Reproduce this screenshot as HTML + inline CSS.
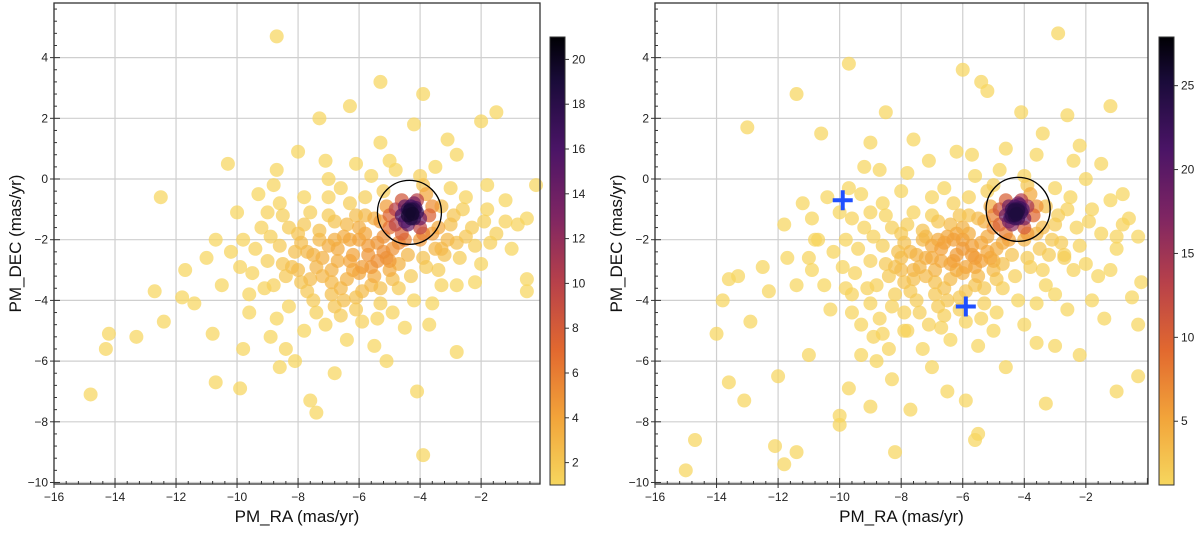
<!DOCTYPE html>
<html><head><meta charset="utf-8"><style>
html,body{margin:0;padding:0;background:#fff;}
svg{display:block;font-family:"Liberation Sans",sans-serif;}
</style></head><body>
<svg id="s" width="1200" height="533" viewBox="0 0 1200 533">
<defs>
<linearGradient id="cmap" x1="0" y1="1" x2="0" y2="0">
<stop offset="0" stop-color="#f6d65e"/><stop offset="0.15" stop-color="#f2a43a"/><stop offset="0.3" stop-color="#e2692f"/><stop offset="0.45" stop-color="#b8414a"/><stop offset="0.6" stop-color="#7e2563"/><stop offset="0.75" stop-color="#4a1466"/><stop offset="0.9" stop-color="#1a0b3a"/><stop offset="1" stop-color="#000004"/>
</linearGradient>
</defs>
</svg>
<script>
const xTicks=[-16,-14,-12,-10,-8,-6,-4,-2];
const yTicks=[-10,-8,-6,-4,-2,0,2,4];
const cbTicksL=[2,4,6,8,10,12,14,16,18,20];
const cbTicksR=[5,10,15,20,25];
const core=[[-10.2,-2.4],[-9.8,-2.0],[-9.5,-3.1],[-9.2,-1.6],[-9.0,-2.7],[-8.8,-3.5],[-8.6,-2.2],[-8.5,-1.2],[-8.3,-4.2],[-8.2,-2.9],[-8.0,-1.8],[-7.9,-3.4],[-7.7,-2.4],[-7.6,-1.1],[-7.5,-4.0],[-7.4,-2.9],[-7.3,-1.7],[-7.2,-3.2],[-7.0,-2.2],[-6.9,-3.8],[-6.8,-1.4],[-6.7,-2.7],[-6.6,-4.5],[-6.5,-1.9],[-6.4,-3.3],[-6.3,-0.8],[-6.2,-2.5],[-6.1,-3.9],[-6.0,-1.6],[-5.9,-2.9],[-5.8,-0.6],[-5.7,-2.2],[-5.6,-3.5],[-5.5,-1.3],[-5.4,-2.7],[-5.3,-4.1],[-5.2,-1.9],[-5.1,-0.9],[-5.0,-3.0],[-4.9,-2.3],[-4.8,-1.5],[-4.7,-3.6],[-4.6,-0.7],[-4.5,-2.0],[-4.4,-1.2],[-4.3,-1.0],[-4.2,-1.3],[-4.3,-0.9],[-4.4,-1.0],[-4.1,-1.1],[-4.2,-0.8],[-4.5,-1.4],[-4.0,-1.6],[-3.9,-2.6],[-3.8,-0.5],[-3.6,-1.8],[-3.4,-3.0],[-3.3,-0.9],[-3.1,-2.0],[-2.9,-1.2],[-2.7,-2.6],[-2.5,-0.6],[-2.3,-1.6],[-2.0,-2.8],[-1.8,-1.0],[-1.5,-1.8],[-1.2,-0.7],[-1.0,-2.3],[-0.8,-1.5],[-9.6,-4.4],[-8.9,-5.2],[-8.4,-5.6],[-7.8,-5.0],[-7.1,-4.8],[-6.4,-5.3],[-5.9,-4.7],[-5.5,-5.5],[-4.9,-4.4],[-4.3,-3.2],[-3.6,-4.1],[-10.5,-3.5],[-11.0,-2.6],[-10.0,-1.1],[-9.3,-0.5],[-8.7,0.3],[-7.1,0.6],[-6.6,-0.3],[-5.6,0.1],[-4.8,0.3],[-3.9,-0.2],[-3.0,-0.3],[-6.0,-3.1],[-6.8,-2.0],[-7.5,-2.5],[-5.2,-2.4],[-4.7,-2.8],[-5.8,-1.8],[-6.3,-2.0],[-5.0,-1.6],[-6.9,-3.0],[-7.9,-2.1],[-8.5,-2.8],[-5.5,-3.2],[-4.6,-1.8],[-3.7,-1.2],[-3.5,-2.3],[-4.0,-2.0],[-4.8,-1.0],[-5.3,-1.4],[-6.1,-1.2],[-4.35,-1.05],[-4.25,-1.15],[-4.15,-0.95]];
const core2=[[-9.9,-2.9],[-9.4,-2.3],[-9.1,-3.6],[-8.9,-1.9],[-8.7,-4.6],[-8.4,-3.2],[-8.1,-2.4],[-7.8,-1.5],[-7.7,-3.7],[-7.4,-4.4],[-7.2,-2.6],[-7.0,-1.2],[-6.9,-3.4],[-6.7,-2.3],[-6.5,-4.0],[-6.4,-1.5],[-6.2,-3.0],[-6.0,-2.0],[-5.9,-3.7],[-5.8,-1.2],[-5.6,-2.9],[-5.4,-2.1],[-5.3,-3.6],[-5.1,-2.6],[-5.0,-1.2],[-4.9,-3.3],[-4.7,-2.1],[-4.6,-1.2],[-4.5,-0.9],[-4.4,-1.5],[-4.3,-1.3],[-4.2,-1.0],[-4.1,-0.7],[-4.0,-1.3],[-3.9,-1.8],[-3.8,-2.9],[-3.6,-0.9],[-3.4,-1.6],[-3.2,-2.5],[-3.0,-1.5],[-2.8,-2.1],[-2.6,-1.0],[-2.2,-2.2],[-1.9,-1.4],[-6.6,-3.6],[-7.3,-2.0],[-8.0,-3.0],[-5.7,-2.5],[-6.3,-2.7],[-5.0,-2.7],[-4.4,-2.5],[-7.6,-3.3],[-8.3,-1.6],[-9.0,-1.1],[-6.8,-4.2],[-5.4,-4.6],[-4.2,-4.0],[-3.3,-3.5],[-6.1,-4.3],[-7.0,-0.6],[-5.2,-0.4],[-4.0,0.1],[-8.6,-0.8],[-9.6,-3.8],[-10.7,-2.0]];
const outerL=[[-8.7,4.7],[-5.3,3.2],[-6.3,2.4],[-3.9,2.8],[-1.5,2.2],[-7.3,2.0],[-4.2,1.8],[-2.0,1.9],[-12.5,-0.6],[-10.3,0.5],[-8.0,0.9],[-14.8,-7.1],[-14.2,-5.1],[-14.3,-5.6],[-13.3,-5.2],[-12.7,-3.7],[-12.4,-4.7],[-11.7,-3.0],[-11.8,-3.9],[-11.4,-4.1],[-10.7,-6.7],[-9.9,-6.9],[-10.8,-5.1],[-9.8,-5.6],[-8.6,-6.2],[-7.6,-7.3],[-7.4,-7.7],[-8.1,-6.0],[-6.8,-6.4],[-5.1,-6.0],[-4.1,-7.0],[-3.9,-9.1],[-2.8,-5.7],[-0.5,-3.3],[-0.5,-3.7],[-0.2,-0.2],[-0.5,-1.3],[-1.2,-1.4],[-1.8,-0.2],[-2.8,0.8],[-3.1,1.3],[-3.5,0.4],[-5.0,0.6],[-5.3,1.2],[-6.1,0.5],[-7.0,0.0],[-8.8,-0.2],[-7.8,-0.6],[-2.2,-3.4],[-2.8,-3.5],[-1.7,-2.1],[-3.7,-4.8],[-4.5,-4.9],[-3.3,-2.3],[-2.5,-1.9]];
const outerR=[[-15,-9.6],[-14.7,-8.6],[-13.6,-6.7],[-13.1,-7.3],[-12.1,-8.8],[-11.8,-9.4],[-11.4,-9.0],[-10.0,-7.8],[-10.0,-8.1],[-9.7,-6.9],[-8.2,-9.0],[-5.9,-7.3],[-5.5,-8.4],[-5.6,-8.6],[-3.3,-7.4],[-1.0,-7.0],[-0.3,-6.5],[-0.3,-4.8],[-0.2,-3.4],[-0.5,-3.9],[-13.0,1.7],[-11.4,2.8],[-10.6,1.5],[-9.7,3.8],[-6.0,3.6],[-5.4,3.2],[-5.2,2.9],[-4.1,2.2],[-2.9,4.8],[-1.2,2.4],[-3.4,1.5],[-2.2,1.1],[-8.5,2.2],[-9.7,-0.3],[-10.4,-0.6],[-11.2,-0.8],[-13.3,-3.2],[-13.6,-3.3],[-13.8,-4.0],[-12.9,-4.7],[-14.0,-5.1],[-12.3,-3.7],[-11.7,-2.6],[-12.5,-2.9],[-8.8,-6.0],[-8.3,-6.6],[-9.3,-5.8],[-7.9,-5.0],[-0.6,-1.3],[-1.0,-1.9],[-0.3,-1.9],[-1.8,-4.0],[-2.7,-2.5],[-11.0,-5.8],[-10.3,-4.3],[-9.0,-7.5],[-7.0,-6.2],[-6.5,-7.0],[-4.6,-6.2],[-3.0,-5.5],[-2.2,-5.8],[-1.4,-4.6],[-1.5,0.5],[-2.6,2.1],[-4.6,1.0],[-7.6,1.3],[-9.0,1.2],[-11.8,-1.5],[-10.9,-3.0],[-6.2,0.9],[-3.6,-5.4],[-7.7,-7.6],[-12.0,-6.5]];
const extraR=[[-7.2,-1.9],[-6.6,-2.1],[-6.0,-2.3],[-7.6,-3.0],[-6.4,-2.8],[-5.6,-2.6],[-8.0,-2.6],[-7.0,-2.6],[-6.2,-1.8],[-4.15,-0.85],[-4.05,-1.0],[-4.3,-1.2],[-4.45,-1.25],[-3.9,-0.9],[-4.2,-1.05],[-9.8,-3.6],[-9.0,-4.1],[-8.2,-3.8],[-3.0,-3.8],[-2.4,-3.0],[-1.6,-3.2],[-10.8,-2.0],[-9.6,-1.3],[-8.0,-0.4],[-5.0,-0.2],[-2.0,0.0],[-7.9,-4.4],[-7.3,-5.6],[-8.6,-5.1],[-9.3,-4.8],[-6.7,-4.9],[-5.0,-5.0],[-4.0,-4.8],[-2.6,-4.3],[-1.2,-3.0],[-0.8,-0.5],[-2.4,0.6],[-3.6,0.8],[-5.7,0.8],[-7.8,0.2],[-9.2,0.4],[-10.9,-1.3],[-11.4,-3.5]];
const ptsL=core.concat(core2,outerL);
const ptsR=core.concat(core2,outerR,extraR);
const NS="http://www.w3.org/2000/svg";
const svg=document.getElementById('s');
function mk(t,a,p){const e=document.createElementNS(NS,t);for(const k in a)e.setAttribute(k,a[k]);(p||svg).appendChild(e);return e;}
const stops=[[0,[246,214,94]],[0.15,[242,164,58]],[0.3,[226,105,47]],[0.45,[184,65,74]],[0.6,[126,37,99]],[0.75,[74,20,102]],[0.9,[26,11,58]],[1,[0,0,4]]];
function cmap(t){t=Math.max(0,Math.min(1,t));for(let i=1;i<stops.length;i++){if(t<=stops[i][0]){const a=stops[i-1],b=stops[i];const f=(t-a[0])/(b[0]-a[0]);return 'rgb('+a[1].map((v,j)=>Math.round(v+(b[1][j]-v)*f)).join(',')+')';}}return 'rgb(0,0,4)';}
function panel(o){
  const g=mk('g',{});
  const X=v=>o.x0+(v-o.xmin)/(o.xmax-o.xmin)*(o.x1-o.x0);
  const Y=v=>o.y1-(v-o.ymin)/(o.ymax-o.ymin)*(o.y1-o.y0);
  const gg=mk('g',{},g);
  xTicks.forEach(t=>{mk('line',{x1:X(t),x2:X(t),y1:o.y0,y2:o.y1,stroke:'#cfcfcf','stroke-width':1.2},gg);});
  yTicks.forEach(t=>{mk('line',{x1:o.x0,x2:o.x1,y1:Y(t),y2:Y(t),stroke:'#cfcfcf','stroke-width':1.2},gg);});
  const pts=o.pts;
  const ks=0.45;
  const dens=pts.map(p=>pts.reduce((s,q)=>{const dx=p[0]-q[0],dy=p[1]-q[1];return s+Math.exp(-(dx*dx+dy*dy)/(2*ks*ks));},0));
  const dmax=Math.max(...dens);
  const order=pts.map((p,i)=>i).sort((a,b)=>dens[a]-dens[b]);
  const sg=mk('g',{},g);
  order.forEach(i=>{const p=pts[i];const f=Math.pow((dens[i]-1)/(dmax-1),2.1);const v=o.cmin+f*(o.peak-o.cmin);
    const c=mk('circle',{cx:X(p[0]),cy:Y(p[1]),r:7,fill:cmap((v-o.cmin)/(o.cmax-o.cmin)),'fill-opacity':0.72},sg);
    
    });
  const cc=mk('circle',{cx:X(o.circ[0]),cy:Y(o.circ[1]),r:32,fill:'none',stroke:'#000','stroke-width':1.3},g);
  
  
  (o.crosses||[]).forEach(p=>{const cg=mk('g',{},g);
    
    
    mk('line',{x1:X(p[0])-10,x2:X(p[0])+10,y1:Y(p[1]),y2:Y(p[1]),stroke:'#1f4fff','stroke-width':4},cg);
    mk('line',{x1:X(p[0]),x2:X(p[0]),y1:Y(p[1])-10,y2:Y(p[1])+10,stroke:'#1f4fff','stroke-width':4},cg);});
  const fr=mk('rect',{x:o.x0,y:o.y0,width:o.x1-o.x0,height:o.y1-o.y0,fill:'none',stroke:'#333','stroke-width':1.3},g);
  
  for(let v=-16;v<=o.xmax;v+=0.4){const big=Math.abs(v-Math.round(v/2)*2)<1e-6;mk('line',{x1:X(v),x2:X(v),y1:o.y1,y2:o.y1-(big?6:3),stroke:'#333','stroke-width':1},g);}
  for(let v=-10;v<=o.ymax;v+=0.4){const big=Math.abs(v-Math.round(v/2)*2)<1e-6;mk('line',{x1:o.x0,x2:o.x0+(big?6:3),y1:Y(v),y2:Y(v),stroke:'#333','stroke-width':1},g);}
  xTicks.forEach(t=>{mk('line',{x1:X(t),x2:X(t),y1:o.y1,y2:o.y1+4,stroke:'#333'},g);const tx=mk('text',{x:X(t),y:o.y1+17,'text-anchor':'middle','font-size':12,fill:'#222'},g);tx.textContent='\u2212'+Math.abs(t);});
  yTicks.forEach(t=>{mk('line',{x1:o.x0-4,x2:o.x0,y1:Y(t),y2:Y(t),stroke:'#333'},g);const tx=mk('text',{x:o.x0-6,y:Y(t)+4,'text-anchor':'end','font-size':12,fill:'#222'},g);tx.textContent=(t<0?'\u2212':'')+Math.abs(t);});
  const xt=mk('text',{x:(o.x0+o.x1)/2,y:522,'text-anchor':'middle','font-size':17,fill:'#111'},g);xt.textContent='PM_RA (mas/yr)';
  
  const yt=mk('text',{x:0,y:0,transform:'translate('+(o.x0-33)+','+((o.y0+o.y1)/2)+') rotate(-90)','text-anchor':'middle','font-size':17,fill:'#111'},g);yt.textContent='PM_DEC (mas/yr)';
  
  const cb=mk('g',{},g);
  mk('rect',{x:o.cbx,y:37,width:15,height:448,fill:'url(#cmap)',stroke:'#333','stroke-width':1},cb);
  const CY=v=>485-(v-o.cmin)/(o.cmax-o.cmin)*448;
  o.cbTicks.forEach(t=>{mk('line',{x1:o.cbx+15,x2:o.cbx+19,y1:CY(t),y2:CY(t),stroke:'#333'},cb);const tx=mk('text',{x:o.cbx+22,y:CY(t)+4,'font-size':12,fill:'#222'},cb);tx.textContent=t;});
}
panel({name:'left-panel',pts:ptsL,x0:54,x1:540,y0:3,y1:484,xmin:-16,xmax:-0.07,ymin:-10.05,ymax:5.8,cbx:550,cmin:1.0,cmax:21,peak:19.5,cbTicks:cbTicksL,circ:[-4.35,-1.1]});
panel({name:'right-panel',pts:ptsR,x0:655,x1:1148,y0:3,y1:484,xmin:-16,xmax:0.02,ymin:-10.05,ymax:5.8,cbx:1159,cmin:1.2,cmax:27.9,peak:25,cbTicks:cbTicksR,circ:[-4.2,-1.0],crosses:[[-9.9,-0.7],[-5.9,-4.2]]});
</script>
</body></html>
